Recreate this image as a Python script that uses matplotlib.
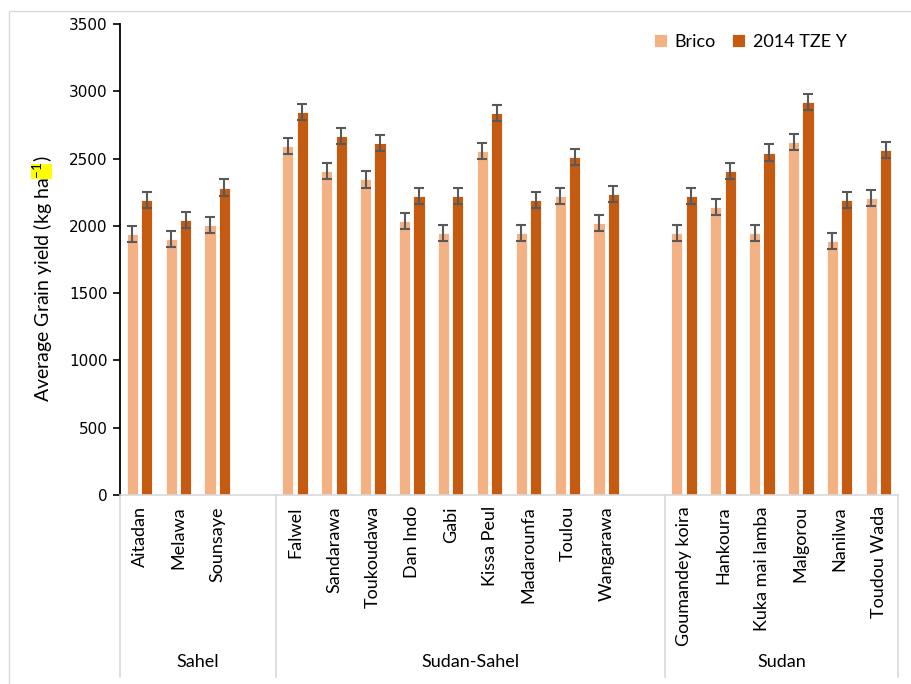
import matplotlib
matplotlib.use("Agg")
import matplotlib.pyplot as plt
from matplotlib.patches import Rectangle
import matplotlib.transforms as mtransforms
import numpy as np

# Agro-ecological zones and their villages
zones = ["Sahel", "Sudan-Sahel", "Sudan"]
villages = [
    ["Aitadan", "Melawa", "Sounsaye"],
    ["Falwel", "Sandarawa", "Toukoudawa", "Dan Indo", "Gabi", "Kissa Peul",
     "Madarounfa", "Toulou", "Wangarawa"],
    ["Goumandey koira", "Hankoura", "Kuka mai lamba", "Malgorou", "Nanilwa",
     "Toudou Wada"],
]

# Average grain yield (kg/ha) per village, in the same order
brico = [1940, 1900, 2005,
         2595, 2410, 2345, 2035, 1950, 2555, 1945, 2220, 2020,
         1950, 2140, 1950, 2620, 1890, 2205]
tze = [2190, 2045, 2285,
       2845, 2665, 2615, 2225, 2225, 2840, 2195, 2510, 2235,
       2220, 2410, 2545, 2920, 2190, 2565]
brico_err = [60, 60, 60,
             60, 60, 60, 60, 60, 60, 60, 60, 60,
             60, 60, 60, 60, 60, 60]
tze_err = [60, 60, 60,
           60, 60, 60, 60, 60, 60, 60, 60, 60,
           60, 60, 60, 60, 60, 60]

series_names = ["Brico", "2014 TZE Y"]
colors = ["#F4B183", "#C55A11"]
yticks = [0, 500, 1000, 1500, 2000, 2500, 3000, 3500]

main_font = "Lato"

# one slot per village, with an empty slot after each zone except the last
positions = []
labels = []
zone_bounds = []
slot = 0
for zi, names in enumerate(villages):
    start = slot
    for name in names:
        positions.append(slot + 0.5)
        labels.append(name)
        slot += 1
    if zi < len(villages) - 1:
        slot += 1
    zone_bounds.append((start, slot))
n_slots = slot
positions = np.array(positions)

fig = plt.figure(figsize=(9.11, 6.84), dpi=100)
ax = fig.add_axes([120 / 911, 189 / 684, 778 / 911, 471 / 684])

width = 0.29
offset = 0.185
err_kw = dict(ecolor="#595959", elinewidth=1.5, capsize=3.4, capthick=1.5)
ax.bar(positions - offset, brico, width, color=colors[0], edgecolor="white",
       linewidth=0.6, yerr=brico_err, error_kw=err_kw, label=series_names[0],
       zorder=2)
ax.bar(positions + offset, tze, width, color=colors[1], edgecolor="white",
       linewidth=0.6, yerr=tze_err, error_kw=err_kw, label=series_names[1],
       zorder=2)

ax.set_xlim(0, n_slots)
ax.set_ylim(0, 3500)
ax.set_yticks(yticks)
ax.set_yticklabels([str(v) for v in yticks], fontsize=11,
                   family="DejaVu Sans")
ax.tick_params(axis="y", direction="out", length=5, width=1.2, color="black",
               pad=4)

ax.set_xticks(positions)
ax.set_xticklabels(labels, rotation=90, fontsize=13, family=main_font,
                   va="top", ha="center")
ax.tick_params(axis="x", length=0, pad=8)

for side in ["top", "right"]:
    ax.spines[side].set_visible(False)
ax.spines["left"].set_color("black")
ax.spines["left"].set_linewidth(1.3)
ax.spines["bottom"].set_color("#D9D9D9")
ax.spines["bottom"].set_linewidth(1.2)

# zone separators and zone names below the category axis
trans = mtransforms.blended_transform_factory(ax.transData, ax.transAxes)
line_depth = -(677 - 495) / 471
edges = [0] + [zone_bounds[i][1] for i in range(len(zone_bounds))]
for e in edges:
    ax.plot([e, e], [0, line_depth], transform=trans, color="#D9D9D9",
            lw=1.2, clip_on=False, zorder=1)
for name, (s, e) in zip(zones, zone_bounds):
    ax.text((s + e) / 2, -(662 - 495) / 471, name, transform=trans,
            ha="center", va="center", fontsize=13, family=main_font)

leg = ax.legend(loc="center", bbox_to_anchor=(0.81, 0.962), ncol=2,
                frameon=False, prop={"family": main_font, "size": 13},
                handlelength=0.75, handleheight=0.75, handletextpad=0.4,
                columnspacing=0.9)

plt.rcParams["mathtext.fontset"] = "custom"
plt.rcParams["mathtext.rm"] = main_font
plt.rcParams["mathtext.it"] = main_font
ylab = fig.text(43 / 911, 1 - 279 / 684, r"Average Grain yield (kg ha$^{\mathrm{-1}}$)",
                rotation=90, ha="center", va="center", fontsize=14,
                family=main_font)

# yellow highlight behind the exponent
fig.canvas.draw()
bb = ylab.get_window_extent()
inv = fig.transFigure.inverted()
(x0, y0) = inv.transform((bb.x0, bb.y1 - 23))
(x1, y1) = inv.transform((bb.x1 - 3, bb.y1 - 8))
fig.patches.append(Rectangle((x0, y0), x1 - x0, y1 - y0,
                             transform=fig.transFigure, facecolor="#FFFF00",
                             edgecolor="none", zorder=-1))

# thin chart-area border
fig.patches.append(Rectangle((9 / 911, -0.05), 1.2, 1 - 11 / 684 + 0.05,
                             transform=fig.transFigure, facecolor="none",
                             edgecolor="#D9D9D9", linewidth=1.0, zorder=-1))

fig.savefig("out.png", dpi=100)
